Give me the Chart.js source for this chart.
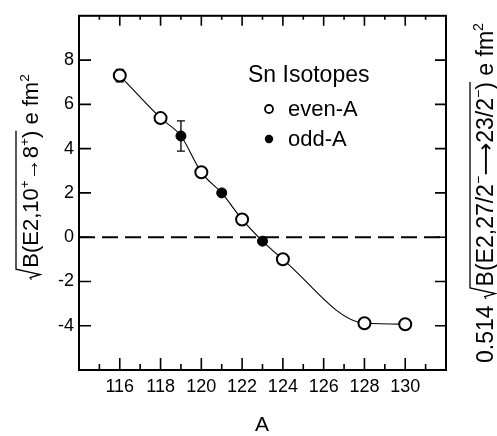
<!DOCTYPE html>
<html lang="en">
<head>
  <meta charset="UTF-8" />
  <title>Sn Isotopes B(E2)</title>
  <script src="https://cdn.jsdelivr.net/npm/chart.js"></script>
  <style>
    body {
      margin: 0;
      padding: 0;
      background: #fff;
    }
    canvas {
      display: block;
    }
  </style>
</head>
<body>
  <canvas id="grafico" width="497" height="436"></canvas>

  <script>
    // mass numbers and values
    const evenA = [116, 118, 120, 122, 124, 128, 130];
    const evenVal = [7.3, 5.38, 2.93, 0.8, -1.0, -3.89, -3.93];
    const evenErr = [0.28, 0, 0, 0, 0, 0, 0];
    const oddA = [119, 121, 123];
    const oddVal = [4.57, 2.0, -0.18];
    const oddErr = [0.68, 0, 0];
    const xTickLabels = [116, 118, 120, 122, 124, 126, 128, 130];
    const yTickLabels = [-4, -2, 0, 2, 4, 6, 8];
    const xRange = [114, 132];
    const yRange = [-6, 10];

    const FONT = '"Liberation Sans", Arial, Helvetica, "DejaVu Sans", sans-serif';

    const evenPts = evenA.map((a, i) => ({ x: a, y: evenVal[i], e: evenErr[i] }));
    const oddPts = oddA.map((a, i) => ({ x: a, y: oddVal[i], e: oddErr[i] }));
    const curvePts = evenPts.concat(oddPts).sort((p, q) => p.x - q.x);

    // rotated label with superscripts and a radical sign
    function drawRich(ctx, cx, cy, segs, size) {
      const radW = size * 0.55;
      let total = 0;
      let radSeen = false;
      segs.forEach(s => {
        ctx.font = (s.sup ? size * 0.62 : size) + 'px ' + FONT;
        s.w = ctx.measureText(s.t).width;
        if (s.rad && !radSeen) { total += radW; radSeen = true; }
        total += s.w;
      });
      ctx.save();
      ctx.translate(cx, cy);
      ctx.rotate(-Math.PI / 2);
      ctx.fillStyle = '#000';
      ctx.textAlign = 'left';
      ctx.textBaseline = 'alphabetic';
      let x = -total / 2;
      let radStart = null, radEnd = null;
      segs.forEach(s => {
        if (s.rad && radStart === null) { radStart = x; x += radW; }
        ctx.font = (s.sup ? size * 0.62 : size) + 'px ' + FONT;
        ctx.fillText(s.t, x, s.sup ? -size * 0.42 : 0);
        x += s.w;
        if (s.rad) radEnd = x;
      });
      if (radStart !== null) {
        const r = radStart, top = -size * 1.0;
        ctx.beginPath();
        ctx.lineWidth = 1.3;
        ctx.strokeStyle = '#000';
        ctx.moveTo(r, -size * 0.3);
        ctx.lineTo(r + size * 0.1, -size * 0.36);
        ctx.lineTo(r + size * 0.24, size * 0.1);
        ctx.lineTo(r + size * 0.48, top);
        ctx.lineTo(radEnd, top);
        ctx.stroke();
      }
      ctx.restore();
    }

    const leftTitle = [
      { t: 'B(E2,10', rad: true }, { t: '+', sup: true, rad: true },
      { t: '\u21928', rad: true }, { t: '+', sup: true, rad: true },
      { t: ')', rad: true }, { t: ' e fm' }, { t: '2', sup: true }
    ];
    const rightTitle = [
      { t: '0.514 ' },
      { t: 'B(E2,27/2', rad: true }, { t: '\u2212', sup: true, rad: true },
      { t: '\u27F623/2', rad: true }, { t: '\u2212', sup: true, rad: true },
      { t: ')', rad: true }, { t: ' e fm' }, { t: '2', sup: true }
    ];

    const errorBars = {
      id: 'errorBars',
      beforeDatasetsDraw(chart) {
        const { ctx, scales: { x, y } } = chart;
        ctx.save();
        ctx.strokeStyle = '#000';
        ctx.lineWidth = 1.3;
        curvePts.forEach(p => {
          if (!p.e) return;
          const px = x.getPixelForValue(p.x);
          const y1 = y.getPixelForValue(p.y + p.e);
          const y2 = y.getPixelForValue(p.y - p.e);
          ctx.beginPath();
          ctx.moveTo(px, y1); ctx.lineTo(px, y2);
          ctx.moveTo(px - 4, y1); ctx.lineTo(px + 4, y1);
          ctx.moveTo(px - 4, y2); ctx.lineTo(px + 4, y2);
          ctx.stroke();
        });
        ctx.restore();
      }
    };

    const marco = {
      id: 'marco',
      afterDraw(chart) {
        const { ctx, chartArea: a, scales: { x, y } } = chart;
        ctx.save();
        ctx.strokeStyle = '#000';
        ctx.lineWidth = 1.6;
        ctx.beginPath();
        x.ticks.forEach(t => {
          if (t.value <= xRange[0] || t.value >= xRange[1]) return;
          const px = x.getPixelForValue(t.value);
          const len = t.value % 2 === 0 ? 12 : 6;
          ctx.moveTo(px, a.bottom); ctx.lineTo(px, a.bottom - len);
          ctx.moveTo(px, a.top); ctx.lineTo(px, a.top + len - 2);
        });
        y.ticks.forEach(t => {
          if (t.value <= yRange[0] || t.value >= yRange[1]) return;
          const py = y.getPixelForValue(t.value);
          ctx.moveTo(a.left, py); ctx.lineTo(a.left + 12, py);
          ctx.moveTo(a.right, py); ctx.lineTo(a.right - 11, py);
        });
        ctx.stroke();
        ctx.lineWidth = 2;
        ctx.strokeRect(a.left, a.top, a.right - a.left, a.bottom - a.top);

        // legend
        ctx.fillStyle = '#000';
        ctx.textAlign = 'left';
        ctx.textBaseline = 'alphabetic';
        ctx.font = '23px ' + FONT;
        ctx.fillText('Sn Isotopes', 248, 82);
        ctx.font = '22px ' + FONT;
        ctx.fillText('even-A', 288, 116);
        ctx.fillText('odd-A', 288, 146);
        ctx.lineWidth = 1.8;
        ctx.beginPath();
        ctx.arc(269, 109, 4, 0, Math.PI * 2);
        ctx.stroke();
        ctx.beginPath();
        ctx.arc(269, 139, 4.2, 0, Math.PI * 2);
        ctx.fill();

        // axis titles
        ctx.font = '21px ' + FONT;
        ctx.textAlign = 'center';
        ctx.fillText('A', 262, 431);
        drawRich(ctx, 38, 177, leftTitle, 22);
        drawRich(ctx, 493, 193, rightTitle, 23);
        ctx.restore();
      }
    };

    const ctx = document.getElementById('grafico').getContext('2d');
    new Chart(ctx, {
      type: 'scatter',
      data: {
        datasets: [
          {
            label: 'even-A',
            data: evenPts,
            pointStyle: 'circle',
            pointRadius: 6,
            pointBackgroundColor: '#fff',
            pointBorderColor: '#000',
            pointBorderWidth: 2
          },
          {
            label: 'odd-A',
            data: oddPts,
            pointStyle: 'circle',
            pointRadius: 5,
            pointBackgroundColor: '#000',
            pointBorderColor: '#000',
            pointBorderWidth: 1
          },
          {
            type: 'line',
            label: 'curve',
            data: curvePts,
            borderColor: '#000',
            borderWidth: 1.1,
            pointRadius: 0,
            cubicInterpolationMode: 'monotone',
            fill: false
          },
          {
            type: 'line',
            label: 'zero',
            data: [{ x: xRange[0], y: 0 }, { x: xRange[1], y: 0 }],
            borderColor: '#000',
            borderWidth: 2,
            borderDash: [16, 7],
            pointRadius: 0,
            fill: false
          }
        ]
      },
      options: {
        responsive: false,
        animation: false,
        events: [],
        layout: { padding: { top: 8, right: 51, left: 0, bottom: 0 } },
        plugins: {
          legend: { display: false },
          tooltip: { enabled: false }
        },
        scales: {
          x: {
            type: 'linear',
            min: xRange[0],
            max: xRange[1],
            afterFit(s) { s.height = 66; },
            grid: { display: false, drawTicks: false },
            border: { display: false },
            ticks: {
              stepSize: 1,
              autoSkip: false,
              maxRotation: 0,
              padding: 6,
              color: '#000',
              font: { family: FONT, size: 18 },
              callback: v => xTickLabels.includes(v) ? String(v) : ''
            }
          },
          y: {
            min: yRange[0],
            max: yRange[1],
            afterFit(s) { s.width = 79; },
            grid: { display: false, drawTicks: false },
            border: { display: false },
            ticks: {
              stepSize: 2,
              padding: 5,
              color: '#000',
              font: { family: FONT, size: 18 },
              callback: v => yTickLabels.includes(v) ? String(v) : ''
            }
          }
        }
      },
      plugins: [errorBars, marco]
    });
  </script>
</body>
</html>
